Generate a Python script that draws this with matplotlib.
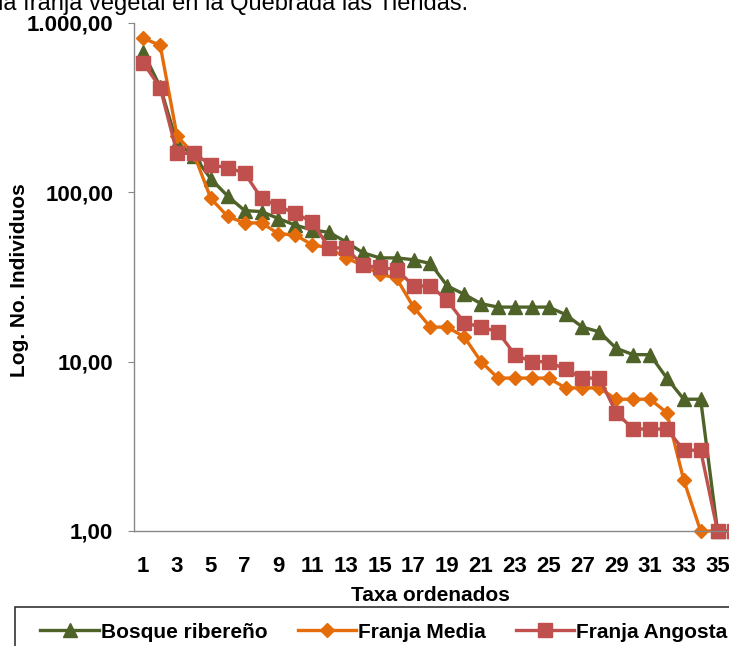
import numpy as np
import matplotlib.pyplot as plt
from matplotlib.patches import Rectangle
from matplotlib.ticker import FixedLocator, NullLocator

plt.rcParams['font.family'] = ['Liberation Sans', 'DejaVu Sans']

# Abundance per ranked taxon (log scale)
taxa = np.arange(1, 37)
bosque = [670, 420, 195, 165, 120, 95, 78, 77, 70, 64, 60, 58, 51, 44, 41, 41, 40, 38,
          28, 25, 22, 21, 21, 21, 21, 19, 16, 15, 12, 11, 11, 8, 6, 6, 1, 1]
media = [810, 740, 215, 168, 92, 72, 66, 66, 57, 56, 49, 47, 41, 37, 33, 31, 21, 16,
         16, 14, 10, 8, 8, 8, 8, 7, 7, 7, 6, 6, 6, 5, 2, 1, 1, 1]
angosta = [580, 416, 170, 170, 145, 140, 130, 92, 83, 75, 67, 47, 47, 37, 36, 35, 28, 28,
           23, 17, 16, 15, 11, 10, 10, 9, 8, 8, 5, 4, 4, 4, 3, 3, 1, 1]

yticks = [1, 10, 100, 1000]
ylabels = ['1,00', '10,00', '100,00', '1.000,00']
xlabels = [str(i) for i in range(1, 36, 2)]

fig = plt.figure(figsize=(7.29, 6.46), dpi=100)
ax = fig.add_axes([134 / 729, 115 / 646, 608 / 729, 508 / 646])

ax.plot(taxa, bosque, color='#4F6228', lw=2.4, marker='^', ms=10, label='Bosque ribereño')
ax.plot(taxa, media, color='#E46C0A', lw=2.4, marker='D', ms=7.5, label='Franja Media')
ax.plot(taxa, angosta, color='#C0504D', lw=2.4, marker='s', ms=10, label='Franja Angosta')

ax.set_yscale('log')
ax.set_ylim(1, 1000)
ax.set_xlim(0.45, 36.45)
ax.yaxis.set_major_locator(FixedLocator(yticks))
ax.yaxis.set_minor_locator(NullLocator())
ax.set_yticklabels(ylabels, fontsize=16, fontweight='bold')
ax.set_xticks(range(1, 36, 2))
ax.set_xticklabels(xlabels, fontsize=16, fontweight='bold')
ax.tick_params(axis='x', length=0, pad=18)
ax.tick_params(axis='y', length=4, color='#888888', pad=11)

for s in ['top', 'right']:
    ax.spines[s].set_visible(False)
for s in ['left', 'bottom']:
    ax.spines[s].set_color('#888888')
    ax.spines[s].set_linewidth(1)
for line in ax.lines:
    line.set_clip_on(False)

ax.set_ylabel('Log. No. Individuos', fontsize=15, fontweight='bold')
ax.yaxis.set_label_coords((29 - 134) / 608, (531 - 280) / 508)
ax.set_xlabel('Taxa ordenados', fontsize=15, fontweight='bold')
ax.xaxis.set_label_coords((430 - 134) / 608, -55 / 508)

# title, partly running off the top edge
fig.text(-2 / 729, 1 - 10 / 646, 'la franja vegetal en la Quebrada las Tiendas.',
         fontsize=17, va='baseline', ha='left')

# legend box below the chart
fig.patches.append(Rectangle((15 / 729, -0.05), 1.0, (646 - 607) / 646 + 0.05,
                             transform=fig.transFigure, fill=False,
                             edgecolor='#333333', lw=1.2))
leg = fig.legend(loc='center left', bbox_to_anchor=(30 / 729, 1 - 632 / 646), ncol=3,
                 frameon=False, prop={'size': 15, 'weight': 'bold'},
                 handlelength=2.8, handletextpad=0.1, columnspacing=1.45, borderpad=0)

fig.savefig('out.png', dpi=100)
